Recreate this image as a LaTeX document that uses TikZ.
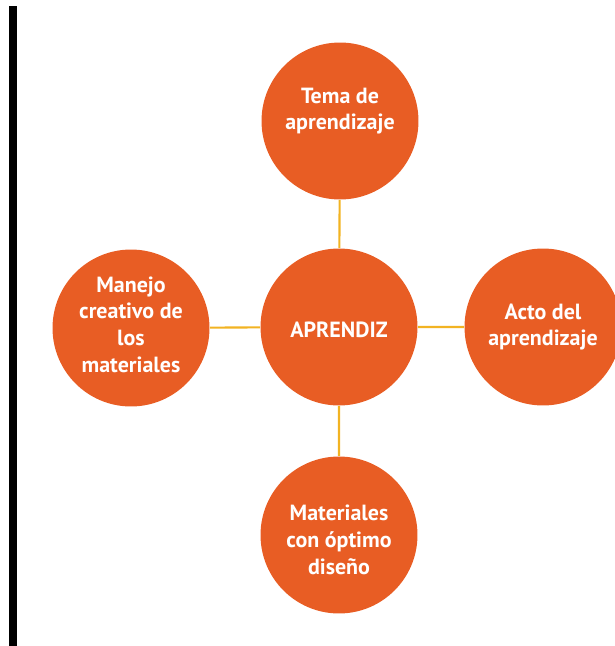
\documentclass[tikz,border=0pt]{standalone}
\usepackage{fontspec}
\setmainfont{PT Sans}
\usepackage{tikz}
\definecolor{naranja}{HTML}{E85D24}
\definecolor{amarillo}{HTML}{F2B322}

\begin{document}
\begin{tikzpicture}[
        x=0.02cm, y=-0.02cm,
        every label/.append style={font=\bfseries\fontsize{12.5}{15.2}\selectfont,text=white,align=center}
    ]
    \tikzstyle{burbuja}=[shape=circle,fill=naranja,minimum size=3.14cm,inner sep=0pt];
    \tikzstyle{enlace}=[draw=amarillo,line width=1.2pt];
    \useasboundingbox (0,0) rectangle (615,646);
    \clip (0,0) rectangle (615,646);
    % barra
    \fill[black] (9,6) rectangle (17,646);
    % centro
    \node[burbuja] (aprendiz) at (339,327) [label={[yshift=-0.05cm]center:APRENDIZ}] {};
    % alrededor
    \node[burbuja] (tema) at (340,121) [label={[yshift=0.2cm]center:Tema de\\aprendizaje}] {};
    \node[burbuja] (manejo) at (131,328) [label={[yshift=0.07cm]center:Manejo\\creativo de\\los\\materiales}] {};
    \node[burbuja] (acto) at (543,327) [label={center:Acto del\\aprendizaje}] {};
    \node[burbuja] (materiales) at (339,535) [label={[yshift=-0.1cm]center:Materiales\\con óptimo\\diseño}] {};
    % lineas
    \draw[enlace] (aprendiz) -- (tema) (aprendiz) -- (manejo) (aprendiz) -- (acto) (aprendiz) -- (materiales);
\end{tikzpicture}
\end{document}
